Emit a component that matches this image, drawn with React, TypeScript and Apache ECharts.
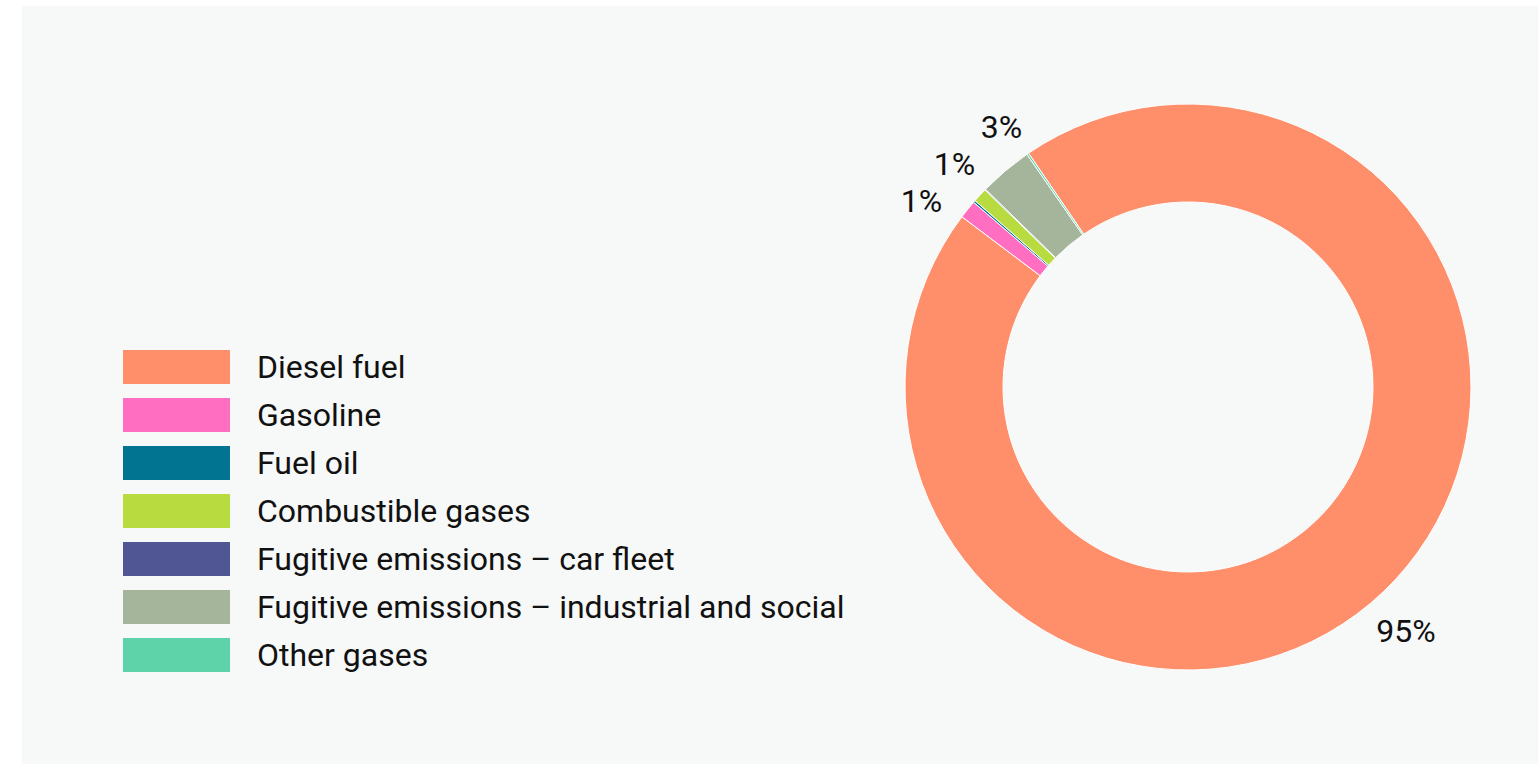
import React, { useEffect, useRef } from "react";
import * as echarts from "echarts";

const categories = [
  "Diesel fuel",
  "Gasoline",
  "Fuel oil",
  "Combustible gases",
  "Fugitive emissions – car fleet",
  "Fugitive emissions – industrial and social",
  "Other gases",
];
const shares = [94.8, 1.05, 0.12, 0.82, 0.05, 3.05, 0.11];
const colors = ["#ff8f6b", "#ff6ec0", "#007490", "#b8dc40", "#505594", "#a5b59b", "#5ed3a9"];

const CX = 1166;
const CY = 381;
const START = 124.3;
const LABEL_R = 330;
const LABEL_EDGE_R = 308;
const LABEL_GAP = 37;
const LABEL_DY = 5;

function computeLabelPositions() {
  const total = shares.reduce((a, b) => a + b, 0);
  let ang = START;
  const items: { i: number; x: number; y: number; side: number; show: boolean }[] = [];
  shares.forEach((v, i) => {
    const span = (v / total) * 360;
    const mid = ((ang - span / 2) * Math.PI) / 180;
    ang -= span;
    const x = Math.cos(mid) * LABEL_R;
    const y = -Math.sin(mid) * LABEL_R;
    items.push({ i, x, y, side: x < 0 ? -1 : 1, show: Math.round((v / total) * 100) > 0 });
  });
  [-1, 1].forEach((side) => {
    const group = items.filter((it) => it.side === side && it.show).sort((a, b) => a.y - b.y);
    for (let k = 0; k < 100; k++) {
      for (let j = 0; j < group.length - 1; j++) {
        const d = group[j + 1].y - group[j].y;
        if (d < LABEL_GAP) {
          const push = (LABEL_GAP - d) / 2;
          group[j].y -= push;
          group[j + 1].y += push;
        }
      }
    }
  });
  const pos: { x: number; y: number; align: string }[] = [];
  items.forEach((it) => {
    const y = it.y + LABEL_DY;
    const yy = Math.min(Math.abs(y), LABEL_EDGE_R);
    const x = it.side * Math.sqrt(LABEL_EDGE_R * LABEL_EDGE_R - yy * yy);
    pos[it.i] = { x: CX + x, y: CY + y, align: it.side < 0 ? "right" : "left" };
  });
  return pos;
}

export default function App() {
  const ref = useRef<HTMLDivElement>(null);
  useEffect(() => {
    const chart = echarts.init(ref.current!, null, { renderer: "svg" });
    const total = shares.reduce((a, b) => a + b, 0);
    const labelPos = computeLabelPositions();
    chart.setOption({
      animation: false,
      backgroundColor: "#f7f8f8",
      color: colors,
      textStyle: { fontFamily: "Roboto" },
      legend: {
        orient: "vertical",
        left: 101,
        top: 344,
        padding: 0,
        itemWidth: 107,
        itemHeight: 34,
        itemGap: 14,
        icon: "rect",
        itemStyle: { borderWidth: 0 },
        textStyle: {
          fontSize: 32,
          lineHeight: 34,
          color: "#111",
          fontFamily: "Roboto",
          padding: [0, 0, 0, 22],
        },
        data: categories,
      },
      series: [
        {
          type: "pie",
          center: [CX, CY],
          radius: [185, 283],
          startAngle: START,
          avoidLabelOverlap: false,
          itemStyle: { borderColor: "#ffffff", borderWidth: 1 },
          label: {
            show: true,
            position: "outside",
            fontSize: 32,
            color: "#111",
            fontFamily: "Roboto",
            formatter: (p: any) => {
              const pct = Math.round((p.value / total) * 100);
              return pct > 0 ? pct + "%" : "";
            },
          },
          labelLine: { show: false },
          labelLayout: (params: any) => {
            const p = labelPos[params.dataIndex];
            return { x: p.x, y: p.y, align: p.align, verticalAlign: "middle" };
          },
          data: categories.map((c, i) => ({ name: c, value: shares[i] })),
        },
      ],
    });
    return () => chart.dispose();
  }, []);
  return (
    <div
      ref={ref}
      style={{ position: "absolute", left: 22, top: 6, width: 1516, height: 758 }}
    />
  );
}
